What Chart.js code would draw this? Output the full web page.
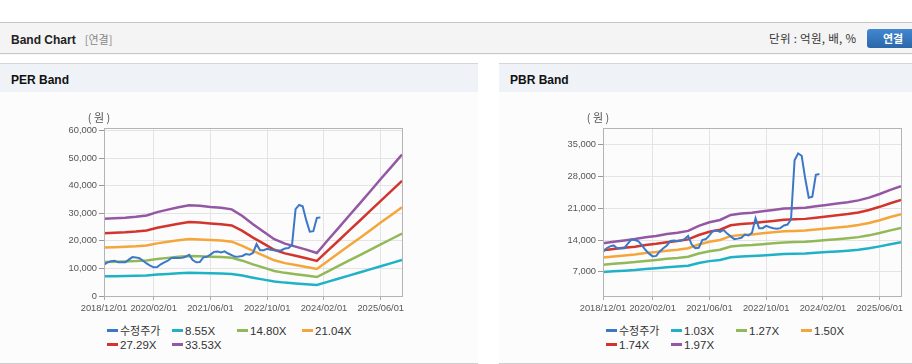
<!DOCTYPE html>
<html>
<head>
<meta charset="utf-8">
<script src="https://cdn.jsdelivr.net/npm/chart.js@4/dist/chart.umd.min.js"></script>
<style>
  body { margin: 0; width: 912px; height: 364px; overflow: hidden; background: #fff;
    font-family: "Liberation Sans", Arial, "Noto Sans CJK KR", sans-serif; color: #222; }
  .topbar { position: absolute; left: 0; top: 22px; width: 912px; height: 30px;
    border-top: 1px solid #c4c4c4; background: #f4f4f4; box-shadow: 0 1px 1px #c8c8c8; }
  .topbar .title { position: absolute; left: 11px; top: 8px; font-size: 12px; font-weight: bold; }
  .topbar .sub { color: #888; font-weight: normal; margin-left: 9px; font-family: "Noto Sans CJK KR", sans-serif; font-size: 11px; }
  .topbar .unit { position: absolute; left: 769px; top: 7px; font-size: 11.5px; color: #333;
    font-family: "Noto Sans CJK KR", sans-serif; letter-spacing: 0.3px; }
  .topbar .btn { position: absolute; left: 867px; top: 6px; width: 52px; height: 19px; border-radius: 3px;
    background: linear-gradient(#4288d0, #2b66aa); color: #fff; font-size: 11px; font-weight: bold;
    text-align: center; line-height: 19px; font-family: "Noto Sans CJK KR", sans-serif; }
  .panel { position: absolute; top: 63px; height: 299px; background: #fcfcfc;
    border-top: 1px solid #d6d6d6; border-bottom: 1px solid #d0d0d0; }
  .panel .head { height: 28px; background: #eff3f8; }
  .panel .head span { position: absolute; left: 11px; top: 9px; font-size: 12px; font-weight: bold; color: #111; }
  canvas { position: absolute; }
  .legend { position: absolute; top: 323px; width: 280px; font-size: 11.5px; color: #333; line-height: 14px; }
  .legend div { display: inline-block; width: 65px; white-space: nowrap; }
  .legend i { display: inline-block; width: 11px; height: 3px; margin-right: 2px; vertical-align: middle; position: relative; top: -1px; }
  .legend .kr { font-family: "Noto Sans CJK KR", sans-serif; font-size: 11px; }
</style>
</head>
<body>
<div class="topbar">
  <div class="title">Band Chart<span class="sub">[연결]</span></div>
  <div class="unit">단위 : 억원, 배, %</div>
  <div class="btn">연결</div>
</div>
<div class="panel" style="left:0;width:478px"><div class="head"><span>PER Band</span></div></div>
<div class="panel" style="left:499px;width:413px"><div class="head"><span>PBR Band</span></div></div>
<canvas id="per-chart" style="left:40px;top:100px;width:370px;height:218px"></canvas>
<canvas id="pbr-chart" style="left:539px;top:100px;width:370px;height:218px"></canvas>
<div class="legend" id="per-legend" style="left:107px"></div>
<div class="legend" id="pbr-legend" style="left:606px"></div>
<script>
// x values are months counted from 2018/12
var tickMonths = [0, 14, 30, 46, 62, 78];
var tickLabels = ["2018/12/01", "2020/02/01", "2021/06/01", "2022/10/01", "2024/02/01", "2025/06/01"];
var bandMonths = [0, 3, 6, 9, 12, 15, 18, 21, 24, 27, 30, 33, 36, 39, 42, 45, 48, 51, 54, 57, 60, 63, 66, 69, 72, 75, 78, 81, 84];

// 수정주가, monthly from 2018/12
var price = [11400, 12200, 12600, 12800, 12200, 12200, 12200, 13200, 14100, 14000, 13700, 12800, 11800, 11000, 10400,
  10500, 11500, 12200, 12800, 13800, 13900, 13800, 13900, 14200, 14900, 13000, 12200, 12300, 14000, 14200, 15000,
  16000, 16100, 15800, 16200, 15400, 14800, 14200, 14300, 14500, 15200, 15000, 15600, 18800, 16600, 16600, 17100,
  16800, 16600, 16500, 16600, 17200, 17400, 18500, 31500, 33000, 32500, 27500, 23300, 23500, 28300, 28500];

// PER band lines (quarterly)
var perNames = ["8.55X", "14.80X", "21.04X", "27.29X", "33.53X"];
var per855 = [7140, 7190, 7240, 7320, 7450, 7750, 7980, 8210, 8390, 8340, 8240, 8160, 8010, 7400, 6630, 5940, 5250, 4850, 4560, 4280, 3980, 5130, 6250, 7400, 8520, 9660, 10810, 11930, 13080];
var per1480 = [12360, 12450, 12540, 12670, 12890, 13420, 13820, 14210, 14520, 14430, 14260, 14120, 13860, 12800, 11480, 10280, 9090, 8390, 7900, 7420, 6890, 8870, 10810, 12800, 14740, 16730, 18720, 20660, 22640];
var per2104 = [17570, 17700, 17820, 18010, 18320, 19080, 19640, 20210, 20640, 20520, 20270, 20080, 19700, 18200, 16320, 14620, 12930, 11920, 11230, 10540, 9790, 12610, 15370, 18200, 20960, 23780, 26610, 29370, 32190];
var per2729 = [22790, 22950, 23110, 23360, 23770, 24740, 25480, 26210, 26780, 26610, 26290, 26040, 25560, 23600, 21160, 18960, 16770, 15460, 14570, 13670, 12700, 16360, 19940, 23600, 27180, 30850, 34510, 38090, 41750];
var per3353 = [28000, 28200, 28400, 28700, 29200, 30400, 31300, 32200, 32900, 32700, 32300, 32000, 31400, 29000, 26000, 23300, 20600, 19000, 17900, 16800, 15600, 20100, 24500, 29000, 33400, 37900, 42400, 46800, 51300];

// PBR band lines (quarterly)
var pbrNames = ["1.03X", "1.27X", "1.50X", "1.74X", "1.97X"];
var pbr103 = [6950, 7110, 7270, 7420, 7630, 7790, 8000, 8160, 8360, 8940, 9360, 9620, 10190, 10350, 10460, 10610, 10770, 10930, 10980, 11030, 11190, 11340, 11500, 11660, 11870, 12180, 12600, 13070, 13490];
var pbr127 = [8570, 8770, 8960, 9150, 9410, 9610, 9860, 10060, 10320, 11020, 11540, 11860, 12570, 12770, 12890, 13090, 13280, 13470, 13540, 13600, 13800, 13990, 14180, 14380, 14630, 15020, 15540, 16120, 16630];
var pbr150 = [10130, 10360, 10580, 10810, 11120, 11340, 11650, 11880, 12180, 13020, 13630, 14010, 14850, 15080, 15230, 15460, 15680, 15910, 15990, 16070, 16290, 16520, 16750, 16980, 17280, 17740, 18350, 19040, 19640];
var pbr174 = [11750, 12010, 12280, 12540, 12890, 13160, 13510, 13780, 14130, 15100, 15810, 16250, 17220, 17490, 17660, 17930, 18190, 18460, 18550, 18640, 18900, 19170, 19430, 19700, 20050, 20580, 21290, 22080, 22790];
var pbr197 = [13300, 13600, 13900, 14200, 14600, 14900, 15300, 15600, 16000, 17100, 17900, 18400, 19500, 19800, 20000, 20300, 20600, 20900, 21000, 21100, 21400, 21700, 22000, 22300, 22700, 23300, 24100, 25000, 25800];

var perTicks = [0, 10000, 20000, 30000, 40000, 50000, 60000];
var pbrTicks = [7000, 14000, 21000, 28000, 35000];

var priceColor = "#3b78c8";
var bandColors = ["#1fb2c6", "#92b957", "#f4a63a", "#d2352e", "#9457a4"];

function toPoints(xs, ys) {
  return ys.map(function (v, i) { return { x: xs[i], y: v }; });
}
var priceMonths = price.map(function (v, i) { return i; });

// frame round the plot and the unit label above the y axis
var framePlugin = {
  id: "frame",
  afterDraw: function (chart) {
    var a = chart.chartArea, c = chart.ctx;
    c.save();
    c.strokeStyle = "#b4b4b4";
    c.lineWidth = 1;
    c.strokeRect(Math.round(a.left) + 0.5, Math.round(a.top) + 0.5, Math.round(a.right - a.left), Math.round(a.bottom - a.top));
    c.fillStyle = "#555";
    c.font = '11px "Noto Sans CJK KR"';
    c.textAlign = "center";
    c.textBaseline = "middle";
    c.fillText("( 원 )", a.left - 5, a.top - 10);
    c.restore();
  }
};

function makeChart(id, bands, yMin, yMax, yTicks) {
  var datasets = [{
    label: "수정주가", data: toPoints(priceMonths, price),
    borderColor: priceColor, backgroundColor: priceColor, borderWidth: 2
  }];
  bands.forEach(function (b, i) {
    datasets.push({
      label: b.name, data: toPoints(bandMonths, b.values),
      borderColor: bandColors[i], backgroundColor: bandColors[i], borderWidth: 2.5
    });
  });
  var tickFont = { family: "Liberation Sans", size: 9.3 };
  return new Chart(document.getElementById(id), {
    type: "line",
    data: { datasets: datasets },
    plugins: [framePlugin],
    options: {
      responsive: false,
      animation: false,
      events: [],
      elements: { point: { radius: 0 }, line: { tension: 0 } },
      layout: { padding: { top: 28, right: 8, left: 0, bottom: 0 } },
      plugins: { legend: { display: false }, tooltip: { enabled: false } },
      scales: {
        x: {
          type: "linear", min: 0, max: 84,
          afterBuildTicks: function (axis) {
            axis.ticks = tickMonths.map(function (m) { return { value: m }; });
          },
          afterFit: function (axis) { axis.height = 22; },
          ticks: {
            autoSkip: false, maxRotation: 0, padding: 3, color: "#555", font: tickFont,
            callback: function (v) { return tickLabels[tickMonths.indexOf(v)]; }
          },
          grid: { color: "#e4e4e4", tickColor: "#aaa", tickLength: 4 },
          border: { color: "#aaa" }
        },
        y: {
          min: yMin, max: yMax,
          afterBuildTicks: function (axis) {
            axis.ticks = yTicks.map(function (v) { return { value: v }; });
          },
          afterFit: function (axis) { axis.width = 64; },
          ticks: {
            padding: 2, color: "#555", font: tickFont,
            callback: function (v) { return v.toLocaleString("en-US"); }
          },
          grid: { color: "#e4e4e4", tickColor: "#999", tickLength: 5 },
          border: { color: "#aaa" }
        }
      }
    }
  });
}

function bandList(names, arrays) {
  return names.map(function (n, i) { return { name: n, values: arrays[i] }; });
}

var perChart = makeChart("per-chart", bandList(perNames, [per855, per1480, per2104, per2729, per3353]), 0, 60900, perTicks);
var pbrChart = makeChart("pbr-chart", bandList(pbrNames, [pbr103, pbr127, pbr150, pbr174, pbr197]), 1700, 38600, pbrTicks);

function buildLegend(id, chart) {
  var html = "";
  chart.data.datasets.forEach(function (d, i) {
    html += '<div><i style="background:' + d.borderColor + '"></i>' +
      (i === 0 ? '<span class="kr">' + d.label + "</span>" : d.label) + "</div>";
  });
  document.getElementById(id).innerHTML = html;
}
buildLegend("per-legend", perChart);
buildLegend("pbr-legend", pbrChart);
</script>
</body>
</html>
